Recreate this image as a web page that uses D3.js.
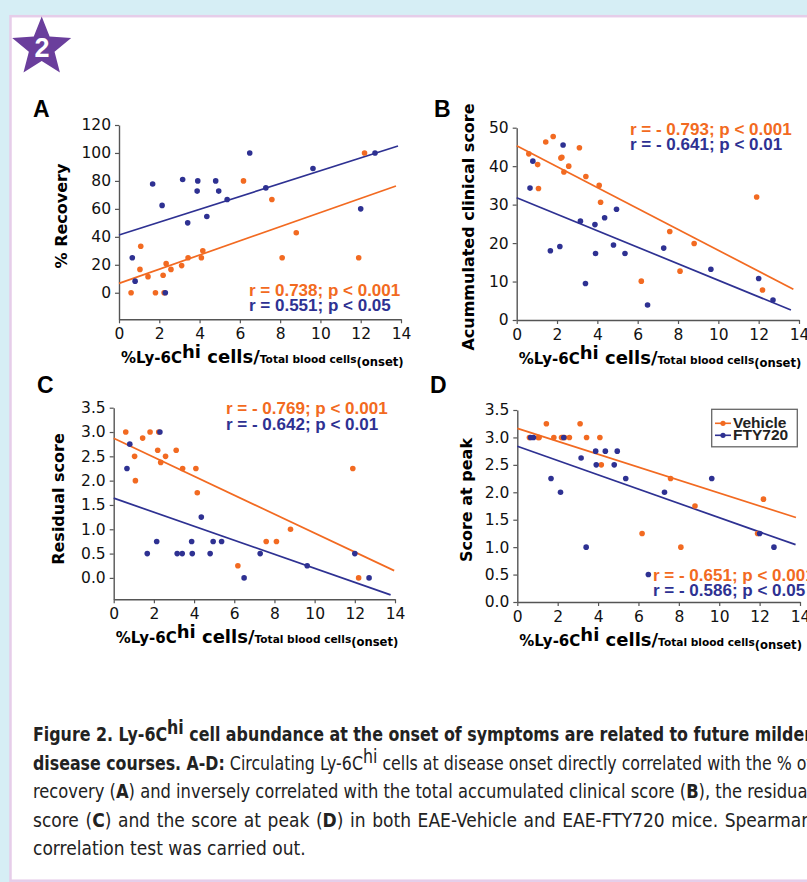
<!DOCTYPE html>
<html>
<head>
<meta charset="utf-8">
<script src="https://cdn.jsdelivr.net/npm/d3@7"></script>
<style>
  body { margin: 0; background: #d6eef5; }
  svg { display: block; }
</style>
</head>
<body>
<svg id="fig" width="807" height="882"></svg>
<script>
// x values (%Ly-6Chi at onset) are shared by all four panels, same mice
const vehicleX = [0.6, 1.04, 1.08, 1.44, 1.81, 2.19, 2.24, 2.34, 2.58, 3.11, 3.43, 4.09, 4.16, 6.18, 7.59, 8.1, 8.8, 11.9, 12.19];
const ftyX = [0.66, 0.8, 1.67, 2.14, 2.3, 3.16, 3.41, 3.88, 3.91, 4.36, 4.8, 4.95, 5.37, 6.49, 7.29, 9.63, 12.0, 12.71];

// A - % recovery
const recoveryVehicle = [0, 16.7, 33.3, 11.5, 0, 12.5, 0, 20.8, 16.7, 19.4, 25, 25, 30, 80, 66.7, 25, 42.9, 25, 100];
const recoveryFty = [25, 8.3, 77.8, 62.5, 0, 81, 50, 72.7, 80, 54.5, 80, 72.7, 66.7, 100, 75, 88.9, 60, 100];
// B - accumulated clinical score
const accumVehicle = [43.2, 40.4, 34.2, 46.3, 47.7, 42.1, 42.3, 38.5, 40.0, 44.8, 37.3, 35.0, 30.6, 10.1, 23.0, 12.7, 19.9, 32.0, 7.8];
const accumFty = [34.3, 41.3, 18.0, 19.1, 45.5, 25.7, 9.5, 24.8, 17.3, 26.6, 19.5, 28.8, 17.3, 3.9, 18.7, 13.2, 10.8, 5.2];
// C - residual score
const residualVehicle = [3.0, 2.5, 2.0, 2.875, 3.0, 2.625, 3.0, 2.375, 2.5, 2.625, 2.25, 2.25, 1.75, 0.25, 0.75, 0.75, 1.0, 2.25, 0];
const residualFty = [2.25, 2.75, 0.5, 0.75, 3.0, 0.5, 0.5, 0.75, 0.5, 1.25, 0.5, 0.75, 0.75, 0, 0.5, 0.25, 0.5, 0];
// D - score at peak
const peakVehicle = [3.0, 3.0, 3.0, 3.25, 3.0, 3.0, 3.0, 3.0, 3.0, 3.25, 3.0, 3.0, 2.5, 1.25, 2.25, 1.0, 1.75, 1.25, 1.875];
const peakFty = [3.0, 3.0, 2.25, 2.0, 3.0, 2.625, 1.0, 2.75, 2.5, 2.75, 2.5, 2.75, 2.25, 0.5, 2.0, 2.25, 1.25, 1.0];

// regression lines: [[x0, y0], [x1, y1]]
const fitRecoveryVehicle = [[0, 6.7], [13.75, 76.4]];
const fitRecoveryFty = [[0, 41.3], [13.85, 105]];
const fitAccumVehicle = [[0, 45.3], [13.72, 8.0]];
const fitAccumFty = [[0, 31.8], [13.6, 2.6]];
const fitResidualVehicle = [[0, 2.87], [13.96, 0.15]];
const fitResidualFty = [[0, 1.64], [13.78, -0.35]];
const fitPeakVehicle = [[0, 3.165], [13.8, 1.54]];
const fitPeakFty = [[0, 2.84], [13.78, 1.045]];

const xTicks = [0, 2, 4, 6, 8, 10, 12, 14];
const recoveryTicks = [0, 20, 40, 60, 80, 100, 120];
const accumTicks = [0, 10, 20, 30, 40, 50];
const scoreTicks = [0, 0.5, 1, 1.5, 2, 2.5, 3, 3.5];

const statsA = ['r = 0.738; p < 0.001', 'r = 0.551; p < 0.05'];
const statsB = ['r = - 0.793; p < 0.001', 'r = - 0.641; p < 0.01'];
const statsC = ['r = - 0.769; p < 0.001', 'r = - 0.642; p < 0.01'];
const statsD = ['r = - 0.651; p < 0.001', 'r = - 0.586; p < 0.05'];
const legendLabels = ['Vehicle', 'FTY720'];

const orange = '#f26a21',
    blue = '#2e3192',
    axisColor = '#555';

let svg = d3.select('svg#fig');

// white page with lilac border
svg.append('rect')
    .attr('x', 10.5).attr('y', 16.2)
    .attr('width', 900).attr('height', 864.5)
    .attr('fill', '#fff')
    .attr('stroke', '#e6cde9')
    .attr('stroke-width', 2.5);

// purple star with the figure number
let starPts = d3.range(10).map(function(i) {
    let r = i % 2 ? 13.5 : 31;
    let a = -Math.PI / 2 + i * Math.PI / 5;
    return [41.7 + r * Math.cos(a), 47.5 + r * Math.sin(a)];
});
svg.append('path')
    .attr('d', 'M' + starPts.join('L') + 'Z')
    .attr('fill', '#6a3e9c');
svg.append('text')
    .attr('x', 42).attr('y', 57)
    .attr('text-anchor', 'middle')
    .attr('font-family', 'Liberation Sans, Arial, sans-serif')
    .attr('font-weight', 'bold')
    .attr('font-size', 27)
    .attr('fill', '#fff')
    .text('2');

function panel(o) {
    let g = svg.append('g');

    let x = d3.scaleLinear().domain([0, 14]).range([o.left, o.right]);
    let y = d3.scaleLinear().domain(o.yDomain).range([o.bottom, o.top]);

    let xAxis = g.append('g')
        .attr('transform', 'translate(0,' + o.bottom + ')')
        .call(d3.axisBottom(x).tickValues(xTicks).tickSize(4).tickPadding(5).tickSizeOuter(0));
    let yAxis = g.append('g')
        .attr('transform', 'translate(' + o.left + ',0)')
        .call(d3.axisLeft(y).tickValues(o.yTicks).tickFormat(o.fmt).tickSize(4).tickPadding(4).tickSizeOuter(0));

    [xAxis, yAxis].forEach(function(a) {
        a.select('.domain').attr('stroke', axisColor).attr('stroke-width', 1.4);
        a.selectAll('.tick line').attr('stroke', axisColor).attr('stroke-width', 1.2);
        a.selectAll('.tick text')
            .attr('fill', '#111')
            .attr('font-family', 'DejaVu Sans, Verdana, sans-serif')
            .attr('font-size', 15.5);
    });

    let line = d3.line().x(function(d) { return x(d[0]); }).y(function(d) { return y(d[1]); });

    // vehicle first, FTY720 on top
    let series = [
        { xs: vehicleX, ys: o.vehicle, fit: o.fitVehicle, color: orange },
        { xs: ftyX, ys: o.fty, fit: o.fitFty, color: blue }
    ];
    series.forEach(function(s) {
        g.append('path')
            .attr('d', line(s.fit))
            .attr('fill', 'none')
            .attr('stroke', s.color)
            .attr('stroke-width', 1.7);
    });
    series.forEach(function(s) {
        g.append('g')
            .selectAll('circle')
            .data(s.ys)
            .enter().append('circle')
            .attr('cx', function(d, i) { return x(s.xs[i]); })
            .attr('cy', function(d) { return y(d); })
            .attr('r', 2.8)
            .attr('fill', s.color);
    });

    // panel letter
    g.append('text')
        .attr('x', o.letterX).attr('y', o.letterY)
        .attr('font-family', 'Liberation Sans, Arial, sans-serif')
        .attr('font-weight', 'bold')
        .attr('font-size', 23)
        .text(o.letter);

    // y title
    g.append('text')
        .attr('transform', 'translate(' + o.yTitleX + ',' + o.yTitleY + ') rotate(-90)')
        .attr('text-anchor', 'middle')
        .attr('font-family', 'DejaVu Sans, Verdana, sans-serif')
        .attr('font-weight', 'bold')
        .attr('font-size', 16)
        .text(o.yTitle);

    // x title
    let xt = g.append('text')
        .attr('x', o.left + 2).attr('y', o.bottom + 44)
        .attr('font-family', 'DejaVu Sans, Verdana, sans-serif')
        .attr('font-weight', 'bold');
    xt.append('tspan').attr('font-size', 15).text('%Ly-6C');
    xt.append('tspan').attr('font-size', 18).attr('dy', -5).text('hi');
    xt.append('tspan').attr('font-size', 18).attr('dy', 5).text(' cells/');
    xt.append('tspan').attr('font-size', 10.6).text('Total blood cells');
    xt.append('tspan').attr('font-size', 11.6).attr('dy', 3).text('(onset)');

    // correlation results
    g.selectAll('.stat')
        .data(o.stats)
        .enter().append('text')
        .attr('class', 'stat')
        .attr('x', o.statX)
        .attr('y', function(d, i) { return o.statY + i * 15.5; })
        .attr('font-family', 'Liberation Sans, Arial, sans-serif')
        .attr('font-weight', 'bold')
        .attr('font-size', 17)
        .attr('fill', function(d, i) { return i ? blue : orange; })
        .text(function(d) { return d; });

    return g;
}

panel({
    letter: 'A', letterX: 33, letterY: 117,
    left: 119, right: 401, top: 125, bottom: 319.3,
    yDomain: [-19, 120], yTicks: recoveryTicks, fmt: d3.format('d'),
    vehicle: recoveryVehicle, fty: recoveryFty,
    fitVehicle: fitRecoveryVehicle, fitFty: fitRecoveryFty,
    yTitle: '% Recovery', yTitleX: 67, yTitleY: 216,
    stats: statsA, statX: 249, statY: 295.5
});

panel({
    letter: 'B', letterX: 434, letterY: 117,
    left: 516.7, right: 799, top: 127.7, bottom: 320,
    yDomain: [0, 50], yTicks: accumTicks, fmt: d3.format('d'),
    vehicle: accumVehicle, fty: accumFty,
    fitVehicle: fitAccumVehicle, fitFty: fitAccumFty,
    yTitle: 'Acummulated clinical score', yTitleX: 474, yTitleY: 227,
    stats: statsB, statX: 630, statY: 134.5
});

panel({
    letter: 'C', letterX: 37, letterY: 393,
    left: 113.7, right: 395, top: 407.7, bottom: 599.3,
    yDomain: [-0.44, 3.5], yTicks: scoreTicks, fmt: d3.format('.1f'),
    vehicle: residualVehicle, fty: residualFty,
    fitVehicle: fitResidualVehicle, fitFty: fitResidualFty,
    yTitle: 'Residual score', yTitleX: 64, yTitleY: 499,
    stats: statsC, statX: 226, statY: 414
});

let pd = panel({
    letter: 'D', letterX: 430, letterY: 393,
    left: 517.3, right: 800, top: 410, bottom: 602,
    yDomain: [0, 3.5], yTicks: scoreTicks, fmt: d3.format('.1f'),
    vehicle: peakVehicle, fty: peakFty,
    fitVehicle: fitPeakVehicle, fitFty: fitPeakFty,
    yTitle: 'Score at peak', yTitleX: 472, yTitleY: 500,
    stats: statsD, statX: 653, statY: 580.5
});

// legend in D
let lg = pd.append('g');
lg.append('rect')
    .attr('x', 711.7).attr('y', 409.3)
    .attr('width', 85.6).attr('height', 37.5)
    .attr('fill', '#fff')
    .attr('stroke', '#666')
    .attr('stroke-width', 1.3);
legendLabels.forEach(function(name, i) {
    let c = i ? blue : orange;
    let ly = 423.3 + i * 12;
    lg.append('line')
        .attr('x1', 715).attr('x2', 731)
        .attr('y1', ly).attr('y2', ly)
        .attr('stroke', c).attr('stroke-width', 1.6);
    lg.append('circle')
        .attr('cx', 723).attr('cy', ly).attr('r', 2.6).attr('fill', c);
    lg.append('text')
        .attr('x', 733).attr('y', ly + 4.5)
        .attr('font-family', 'Liberation Sans, Arial, sans-serif')
        .attr('font-weight', 'bold')
        .attr('font-size', 15.5)
        .attr('fill', '#222')
        .text(name);
});

// caption, justified like the printed page
let captionLines = [
    [['b', 'Figure 2. Ly-6C'], ['bsup', 'hi'], ['b', ' cell abundance at the onset of symptoms are related to future milder']],
    [['b', 'disease courses. A-D:'], ['r', ' Circulating Ly-6C'], ['sup', 'hi'], ['r', ' cells at disease onset directly correlated with the % of']],
    [['r', 'recovery ('], ['b', 'A'], ['r', ') and inversely correlated with the total accumulated clinical score ('], ['b', 'B'], ['r', '), the residual']],
    [['r', 'score ('], ['b', 'C'], ['r', ') and the score at peak ('], ['b', 'D'], ['r', ') in both EAE-Vehicle and EAE-FTY720 mice. Spearman']],
    [['r', 'correlation test was carried out.']]
];

let capLeft = 33, capRight = 812;
captionLines.forEach(function(parts, li) {
    let t = svg.append('text')
        .attr('x', capLeft)
        .attr('y', 741 + li * 28.5)
        .attr('font-family', 'Liberation Sans Narrow, DejaVu Sans Condensed, Roboto Condensed, sans-serif')
        .attr('font-size', 19)
        .attr('fill', '#222');
    let raised = false;
    parts.forEach(function(p) {
        let s = t.append('tspan').text(p[1]);
        if (p[0] === 'b' || p[0] === 'bsup') s.attr('font-weight', 'bold');
        if (p[0] === 'sup' || p[0] === 'bsup') { s.attr('dy', -7); raised = true; }
        else if (raised) { s.attr('dy', 7); raised = false; }
    });
    let node = t.node();
    let natural = node.getComputedTextLength();
    let target = capRight - capLeft;
    if (li < captionLines.length - 1) {
        if (natural < target) {
            let spaces = node.textContent.split(' ').length - 1;
            t.attr('word-spacing', (target - natural) / spaces);
        } else {
            t.attr('textLength', target).attr('lengthAdjust', 'spacingAndGlyphs');
        }
    } else if (natural > 320) {
        t.attr('textLength', 320).attr('lengthAdjust', 'spacingAndGlyphs');
    }
});
</script>
</body>
</html>
